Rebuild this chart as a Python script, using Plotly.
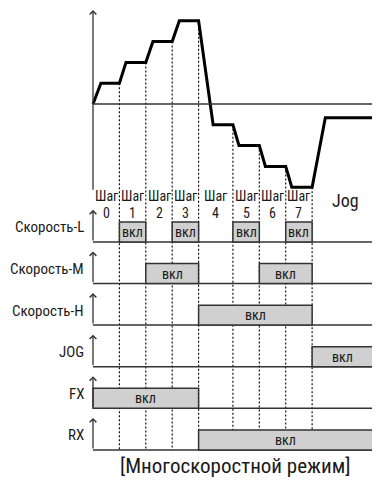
"""Многоскоростной режим: диаграмма скорости и сигналов управления"""
import plotly.graph_objects as go

# данные
STEP_EDGES = [0, 1, 2, 3, 4, 5.3, 6.3, 7.3, 8.3, 10.6]
SEGMENT_LEVELS = [1, 2, 3, 4, -1, -2, -3, -4, -0.66]
RAMP_TIMES = [0.3, 0.25, 0.27, 0.27, 0.55, 0.23, 0.23, 0.23, 0.5]
STEP_NAMES = ["0", "1", "2", "3", "4", "5", "6", "7"]
JOG_NAME = "Jog"
STEP_WORD = "Шаг"

SIGNAL_NAMES = ["Скорость-L", "Скорость-M", "Скорость-H", "JOG", "FX", "RX"]
SPEED_L = [0, 1, 0, 1, 0, 1, 0, 1, 0]
SPEED_M = [0, 0, 1, 1, 0, 0, 1, 1, 0]
SPEED_H = [0, 0, 0, 0, 1, 1, 1, 1, 0]
JOG = [0, 0, 0, 0, 0, 0, 0, 0, 1]
FX = [1, 1, 1, 1, 0, 0, 0, 0, 0]
RX = [0, 0, 0, 0, 1, 1, 1, 1, 1]
SIGNALS = [SPEED_L, SPEED_M, SPEED_H, JOG, FX, RX]
ON_TEXT = "вкл"
TITLE = "[Многоскоростной режим]"

# оформление (страница имеет отступ 8px, поэтому фигура чуть меньше окна)
FONT = "Liberation Sans Narrow, Roboto Condensed, Roboto, sans-serif"
C_TEXT = "#1a1a1a"
C_AXIS = "#333333"
C_BOX = "#d0d0d0"
X_RANGE = [-3.2197, 10.871]
Y_RANGE = [-18.317, 4.615]
AXIS_END = 10.8
ROW_TOP = -6.63
ROW_STEP = 2.0
BOX_H = 0.96
ARROW_H = 1.54

fig = go.Figure()

# кривая скорости
cx, cy = [STEP_EDGES[0]], [0]
for i, lv in enumerate(SEGMENT_LEVELS):
    cx += [STEP_EDGES[i] + RAMP_TIMES[i], STEP_EDGES[i + 1]]
    cy += [lv, lv]

bases = [ROW_TOP - ROW_STEP * i for i in range(len(SIGNAL_NAMES))]
bottom = bases[-1]

shapes = []
# пунктирные линии шагов
for i in range(1, len(STEP_EDGES)):
    shapes.append(dict(type="line", x0=STEP_EDGES[i], x1=STEP_EDGES[i],
                       y0=SEGMENT_LEVELS[i - 1], y1=bottom,
                       line=dict(color="black", width=1.1, dash="2px,2px")))

# нулевая ось
shapes.append(dict(type="line", x0=0, x1=AXIS_END, y0=0, y1=0,
                   line=dict(color=C_AXIS, width=1.5)))

annotations = []
# вертикальная ось скорости
annotations.append(dict(x=0, y=4.52, ax=0, ay=-4.2, axref="x", ayref="y",
                         text="", showarrow=True, arrowhead=4, arrowsize=1,
                         arrowwidth=1.3, arrowcolor=C_AXIS))

for name, sig, base in zip(SIGNAL_NAMES, SIGNALS, bases):
    shapes.append(dict(type="line", x0=0, x1=AXIS_END, y0=base, y1=base,
                       line=dict(color=C_AXIS, width=1.5)))
    annotations.append(dict(x=0, y=base + ARROW_H, ax=0, ay=base, axref="x", ayref="y",
                             text="", showarrow=True, arrowhead=4, arrowsize=1,
                             arrowwidth=1.3, arrowcolor=C_AXIS))
    annotations.append(dict(x=-0.25, y=base + 0.7, text=name, showarrow=False,
                             xanchor="right", yanchor="middle",
                             font=dict(size=15, color=C_TEXT)))
    # объединяем соседние шаги во включённые интервалы
    i = 0
    while i < len(sig):
        if sig[i]:
            j = i
            while j + 1 < len(sig) and sig[j + 1]:
                j += 1
            x0, x1 = STEP_EDGES[i], STEP_EDGES[j + 1]
            shapes.append(dict(type="rect", x0=x0, x1=x1, y0=base, y1=base + BOX_H,
                               fillcolor=C_BOX, line=dict(color=C_AXIS, width=1.5)))
            annotations.append(dict(x=(x0 + x1) / 2, y=base + BOX_H / 2, text=ON_TEXT,
                                     showarrow=False, font=dict(size=14, color=C_TEXT)))
            i = j + 1
        else:
            i += 1

# подписи шагов
for k, nm in enumerate(STEP_NAMES):
    xc = (STEP_EDGES[k] + STEP_EDGES[k + 1]) / 2
    annotations.append(dict(x=xc, y=-4.42, text=STEP_WORD, showarrow=False,
                             font=dict(size=14, color=C_TEXT)))
    annotations.append(dict(x=xc, y=-5.24, text=nm, showarrow=False,
                             font=dict(size=14, color=C_TEXT)))
annotations.append(dict(x=(STEP_EDGES[-2] + STEP_EDGES[-1]) / 2 + 0.1, y=-4.62,
                         text=JOG_NAME, showarrow=False,
                         font=dict(size=18, color=C_TEXT)))

annotations.append(dict(x=AXIS_END / 2, y=0.0398, yref="paper", text=TITLE,
                         showarrow=False, yanchor="middle",
                         font=dict(size=21, color=C_TEXT)))

fig.add_trace(go.Scatter(x=cx, y=cy, mode="lines",
                         line=dict(color="black", width=3), hoverinfo="skip"))

fig.update_layout(
    width=372, height=477,
    margin=dict(l=0, r=0, t=0, b=0),
    paper_bgcolor="white", plot_bgcolor="white",
    font=dict(family=FONT, color=C_TEXT),
    showlegend=False,
    shapes=shapes, annotations=annotations,
    xaxis=dict(range=X_RANGE, visible=False, fixedrange=True),
    yaxis=dict(range=Y_RANGE, visible=False, fixedrange=True),
)

fig.write_html("out.html")
